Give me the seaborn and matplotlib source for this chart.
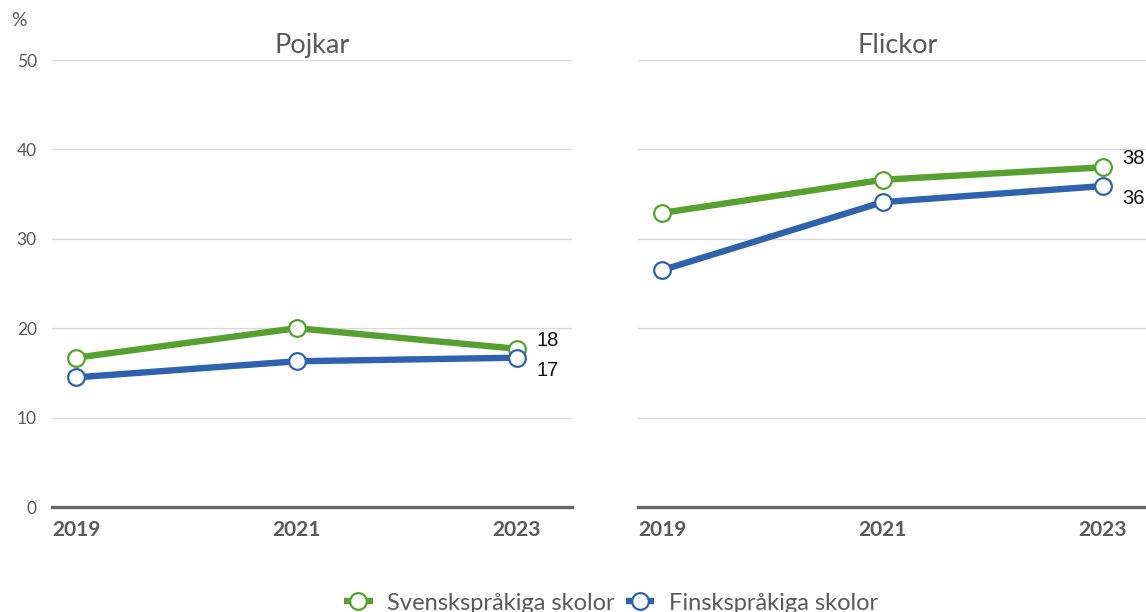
import matplotlib
matplotlib.use("Agg")
import matplotlib.pyplot as plt
import pandas as pd
import seaborn as sns

# Data
years = [2019, 2021, 2023]
groups = ["Pojkar", "Flickor"]
series = ["Svenskspråkiga skolor", "Finskspråkiga skolor"]
pojkar_sv = [16.7, 20.0, 17.7]
pojkar_fi = [14.5, 16.3, 16.7]
flickor_sv = [32.9, 36.6, 38.0]
flickor_fi = [26.5, 34.1, 35.9]
yticks = [0, 10, 20, 30, 40, 50]

values = {
    ("Pojkar", series[0]): pojkar_sv,
    ("Pojkar", series[1]): pojkar_fi,
    ("Flickor", series[0]): flickor_sv,
    ("Flickor", series[1]): flickor_fi,
}
rows = []
for (g, s), vals in values.items():
    for yr, v in zip(years, vals):
        rows.append({"grupp": g, "serie": s, "år": yr, "andel": v})
df = pd.DataFrame(rows)

sns.set_theme(style="white")
plt.rcParams["font.family"] = ["Lato", "DejaVu Sans"]

palette = {series[0]: "#56a02f", series[1]: "#2f62ad"}
grid_col = "#d9d9d9"
text_col = "#595959"

fig = plt.figure(figsize=(11.46, 6.12), dpi=100)
W, H = 1146, 612
ax_w = 520 / W
ax_b = 1 - 507 / H
ax_h = 447 / H
axes = [
    fig.add_axes([52 / W, ax_b, ax_w, ax_h]),
    fig.add_axes([638 / W, ax_b, ax_w, ax_h]),
]

for i, (ax, g) in enumerate(zip(axes, groups)):
    sub = df[df["grupp"] == g]
    sns.lineplot(data=sub, x="år", y="andel", hue="serie", hue_order=series,
                 palette=palette, ax=ax, linewidth=4.6, marker="o",
                 markersize=12, legend=False, clip_on=False)
    for ln in ax.lines:
        c = ln.get_color()
        ln.set_markerfacecolor("white")
        ln.set_markeredgecolor(c)
        ln.set_markeredgewidth(1.6)
        ln.set_solid_capstyle("butt")

    # value labels at the last year
    sv_last = values[(g, series[0])][-1]
    fi_last = values[(g, series[1])][-1]
    ax.annotate(f"{sv_last:.0f}", (years[-1], sv_last), xytext=(14, 6),
                textcoords="offset points", ha="left", va="center",
                fontsize=14.5, color="#111111", family=["Liberation Sans"])
    ax.annotate(f"{fi_last:.0f}", (years[-1], fi_last), xytext=(14, -9),
                textcoords="offset points", ha="left", va="center",
                fontsize=14.5, color="#111111", family=["Liberation Sans"])

    ax.set_xlim(2018.78, 2023.5)
    ax.set_ylim(0, 50)
    ax.set_xticks(years)
    ax.set_xticklabels([str(y) for y in years], fontsize=15,
                       fontweight="bold", color=text_col)
    ax.set_yticks(yticks)
    ax.yaxis.grid(True, color=grid_col, linewidth=1)
    ax.set_axisbelow(True)
    for side in ["top", "right", "left"]:
        ax.spines[side].set_visible(False)
    ax.spines["bottom"].set_color("#666666")
    ax.spines["bottom"].set_linewidth(2.4)
    ax.spines["bottom"].set_zorder(1)
    ax.tick_params(axis="x", length=0, pad=9)
    ax.tick_params(axis="y", length=0, pad=11)
    ax.set_xlabel("")
    ax.set_ylabel("")
    ax.set_title(g, fontsize=19.5, color=text_col, pad=5)
    if i == 0:
        ax.set_yticklabels([str(t) for t in yticks], fontsize=12.5, color=text_col)
    else:
        ax.set_yticklabels([])

fig.text(11 / W, 1 - 21 / H, "%", fontsize=14, color=text_col,
         ha="left", va="center")

# legend built from the plotted lines
handles = axes[0].lines[:2]
fig.legend(handles, series, loc="center", bbox_to_anchor=(611 / W, 1 - 603 / H),
           ncol=2, frameon=False, fontsize=17, handlelength=1.2,
           columnspacing=0.5, handletextpad=0.6, labelcolor=text_col)

fig.savefig("out.png", dpi=100)
